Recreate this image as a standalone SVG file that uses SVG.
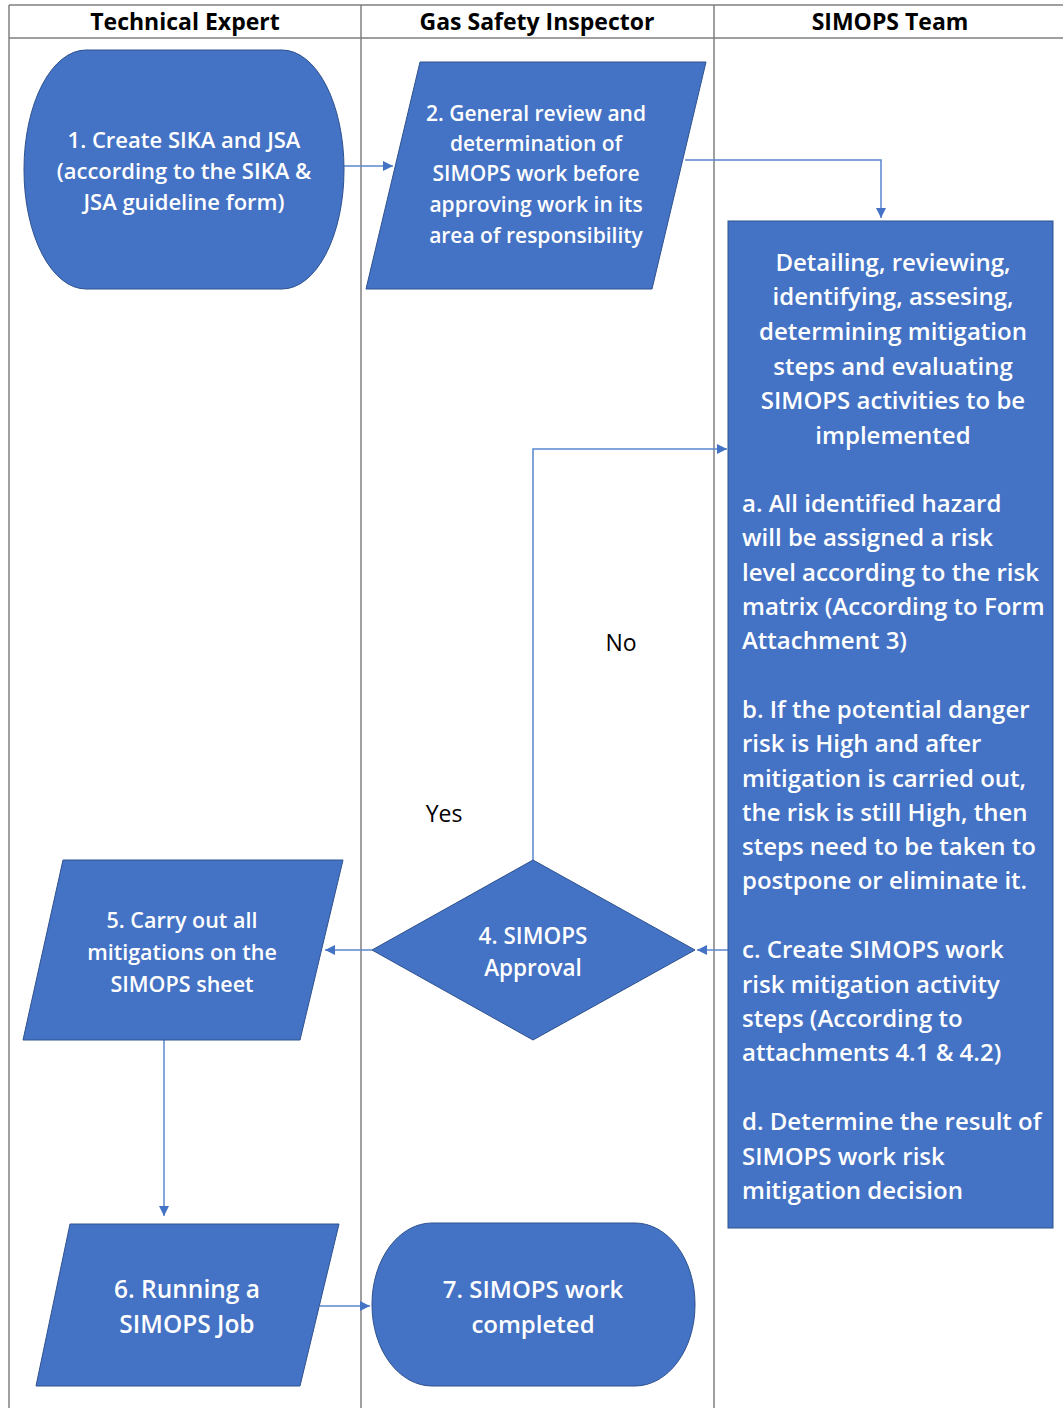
<svg xmlns="http://www.w3.org/2000/svg" width="1063" height="1408" viewBox="0 0 1063 1408">
<style>
.grid{stroke:#7f7f7f;stroke-width:1.5;fill:none}
.hdr{font-family:"Open Sans","Liberation Sans",sans-serif;font-weight:bold;font-size:23px;fill:#000;text-anchor:middle}
.shape{fill:#4472C4;stroke:#2F528F;stroke-width:1}
.t{font-family:"Open Sans","Liberation Sans",sans-serif;font-weight:600;font-size:24px;fill:#fff;text-anchor:middle}
.tl{font-family:"Open Sans","Liberation Sans",sans-serif;font-weight:600;font-size:24px;fill:#fff}
.lbl{font-family:"Open Sans","Liberation Sans",sans-serif;font-weight:500;font-size:23px;fill:#000;text-anchor:middle}
.conn{stroke:#5B86D0;stroke-width:1.5;fill:none;marker-end:url(#ah)}
</style>
<defs>
<marker id="ah" viewBox="0 0 10 10" refX="10" refY="5" markerWidth="10" markerHeight="10" markerUnits="userSpaceOnUse" orient="auto">
<path d="M0,0 L10,5 L0,10 z" fill="#4472C4"/>
</marker>
</defs>
<rect width="1063" height="1408" fill="#fff"/>
<g id="grid">
<line class="grid" x1="9" y1="5" x2="1063" y2="5"/>
<line class="grid" x1="9" y1="38" x2="1063" y2="38"/>
<line class="grid" x1="9" y1="5" x2="9" y2="1408"/>
<line class="grid" x1="361" y1="5" x2="361" y2="1408"/>
<line class="grid" x1="714" y1="5" x2="714" y2="1408"/>
<text class="hdr" x="185" y="30">Technical Expert</text>
<text class="hdr" x="537" y="30">Gas Safety Inspector</text>
<text class="hdr" x="890" y="30">SIMOPS Team</text>
</g>
<g id="connectors">
<line class="conn" x1="344" y1="166" x2="393" y2="166"/>
<polyline class="conn" points="685,160 881,160 881,218"/>
<polyline class="conn" points="533,860 533,449 727,449"/>
<line class="conn" x1="728" y1="950" x2="697" y2="950"/>
<line class="conn" x1="372" y1="950" x2="325" y2="950"/>
<line class="conn" x1="164" y1="1040" x2="164" y2="1216"/>
<line class="conn" x1="320" y1="1306" x2="370" y2="1306"/>
<text class="lbl" x="621" y="651">No</text>
<text class="lbl" x="444" y="822">Yes</text>
</g>
<g id="n1" style="font-size:22px">
<rect class="shape" x="24" y="50" width="320" height="239" rx="62" ry="119"/>
<text class="t" style="font-size:22px" x="184" y="148">1. Create SIKA and JSA</text>
<text class="t" style="font-size:22px" x="184" y="179">(according to the SIKA &amp;</text>
<text class="t" style="font-size:22px" x="184" y="210">JSA guideline form)</text>
</g>
<g id="n2">
<polygon class="shape" points="420,62 706,62 652,289 366,289"/>
<text class="t" style="font-size:21px" x="536" y="121">2. General review and</text>
<text class="t" style="font-size:21px" x="536" y="151">determination of</text>
<text class="t" style="font-size:21px" x="536" y="181">SIMOPS work before</text>
<text class="t" style="font-size:21px" x="536" y="212">approving work in its</text>
<text class="t" style="font-size:21px" x="536" y="243">area of responsibility</text>
</g>
<g id="n3">
<rect class="shape" x="728" y="221" width="325" height="1007"/>
<text class="t" x="893" y="271">Detailing, reviewing,</text>
<text class="t" x="893" y="305">identifying, assesing,</text>
<text class="t" x="893" y="340">determining mitigation</text>
<text class="t" x="893" y="375">steps and evaluating</text>
<text class="t" x="893" y="409">SIMOPS activities to be</text>
<text class="t" x="893" y="444">implemented</text>
<text class="tl" x="742" y="512">a. All identified hazard</text>
<text class="tl" x="742" y="546">will be assigned a risk</text>
<text class="tl" x="742" y="581">level according to the risk</text>
<text class="tl" x="742" y="615">matrix (According to Form</text>
<text class="tl" x="742" y="649">Attachment 3)</text>
<text class="tl" x="742" y="718">b. If the potential danger</text>
<text class="tl" x="742" y="752">risk is High and after</text>
<text class="tl" x="742" y="787">mitigation is carried out,</text>
<text class="tl" x="742" y="821">the risk is still High, then</text>
<text class="tl" x="742" y="855">steps need to be taken to</text>
<text class="tl" x="742" y="889">postpone or eliminate it.</text>
<text class="tl" x="742" y="958">c. Create SIMOPS work</text>
<text class="tl" x="742" y="993">risk mitigation activity</text>
<text class="tl" x="742" y="1027">steps (According to</text>
<text class="tl" x="742" y="1061">attachments 4.1 &amp; 4.2)</text>
<text class="tl" x="742" y="1130">d. Determine the result of</text>
<text class="tl" x="742" y="1165">SIMOPS work risk</text>
<text class="tl" x="742" y="1199">mitigation decision</text>
</g>
<g id="n4">
<polygon class="shape" points="533,860 695,950 533,1040 372,950"/>
<text class="t" style="font-size:22.5px" x="533" y="944">4. SIMOPS</text>
<text class="t" style="font-size:22.5px" x="533" y="976">Approval</text>
</g>
<g id="n5">
<polygon class="shape" points="63,860 343,860 300,1040 23,1040"/>
<text class="t" style="font-size:21.5px" x="182" y="928">5. Carry out all</text>
<text class="t" style="font-size:21.5px" x="182" y="960">mitigations on the</text>
<text class="t" style="font-size:21.5px" x="182" y="992">SIMOPS sheet</text>
</g>
<g id="n6">
<polygon class="shape" points="70,1224 339,1224 300,1386 36,1386"/>
<text class="t" style="font-size:24.5px" x="187" y="1298">6. Running a</text>
<text class="t" style="font-size:24.5px" x="187" y="1333">SIMOPS Job</text>
</g>
<g id="n7">
<rect class="shape" x="372" y="1223" width="323" height="163" rx="60" ry="81"/>
<text class="t" x="533" y="1298">7. SIMOPS work</text>
<text class="t" x="533" y="1333">completed</text>
</g>
</svg>
